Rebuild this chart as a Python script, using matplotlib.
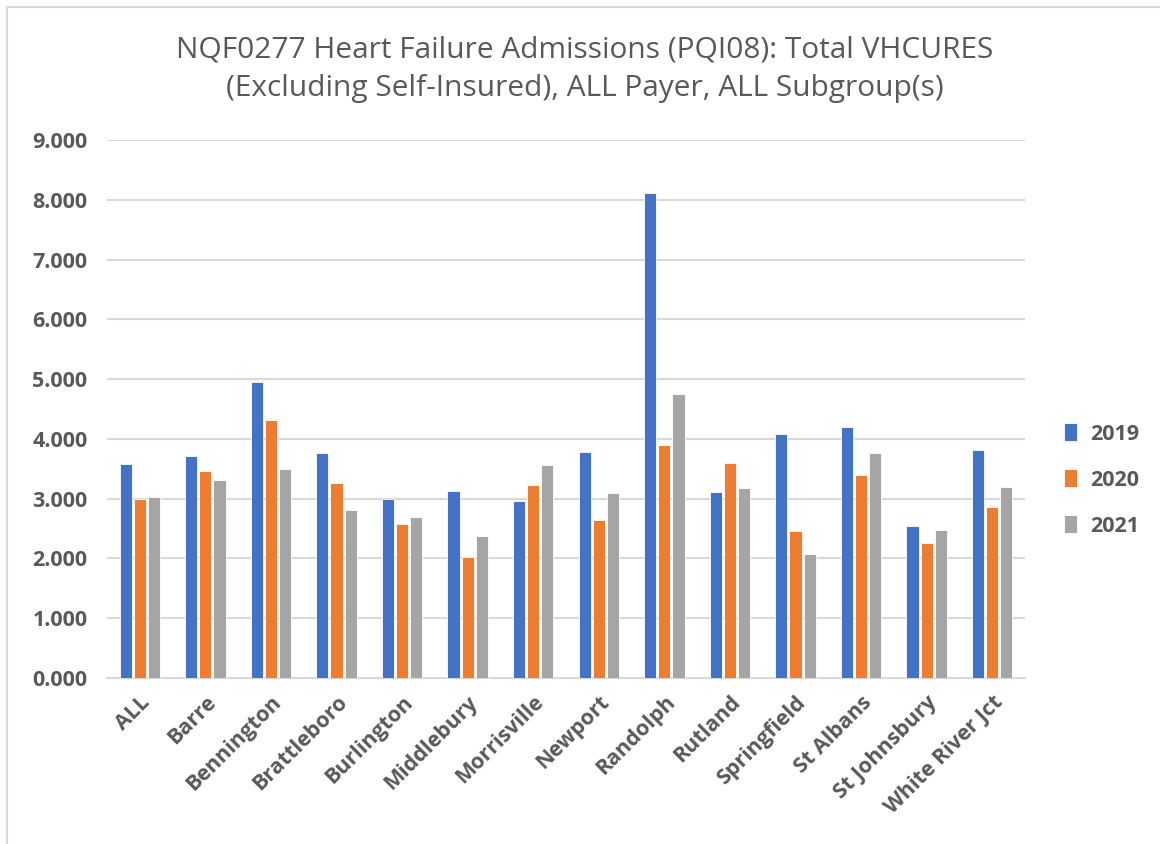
import matplotlib
matplotlib.use("Agg")
import matplotlib.pyplot as plt
import numpy as np
from matplotlib.patches import Rectangle

categories = ["ALL", "Barre", "Bennington", "Brattleboro", "Burlington", "Middlebury",
              "Morrisville", "Newport", "Randolph", "Rutland", "Springfield",
              "St Albans", "St Johnsbury", "White River Jct"]
v2019 = [3.576, 3.720, 4.960, 3.757, 2.995, 3.135, 2.960, 3.780, 8.118, 3.115, 4.075, 4.200, 2.536, 3.813]
v2020 = [2.997, 3.458, 4.320, 3.270, 2.570, 2.017, 3.236, 2.640, 3.894, 3.595, 2.455, 3.396, 2.255, 2.854]
v2021 = [3.034, 3.320, 3.495, 2.816, 2.700, 2.376, 3.560, 3.097, 4.754, 3.171, 2.075, 3.757, 2.473, 3.196]
series_names = ["2019", "2020", "2021"]
colors = ["#4472C4", "#ED7D31", "#A5A5A5"]
title = "NQF0277 Heart Failure Admissions (PQI08): Total VHCURES\n(Excluding Self-Insured), ALL Payer, ALL Subgroup(s)"
yticks = [0, 1, 2, 3, 4, 5, 6, 7, 8, 9]

plt.rcParams['font.family'] = ['Open Sans', 'DejaVu Sans']
txt = "#595959"

fig = plt.figure(figsize=(11.6, 8.44), dpi=100)
fig.patches.append(Rectangle((7/1160, -0.1), 1.2, 1 - 7/844 + 0.1, transform=fig.transFigure,
                             fill=False, edgecolor="#d9d9d9", linewidth=1.5))

ax = fig.add_axes([107/1160, 1 - 678/844, (1025-107)/1160, (678-140)/844])
x = np.arange(len(categories))
w = 0.185
off = 0.215
for i, (vals, name, c) in enumerate(zip([v2019, v2020, v2021], series_names, colors)):
    ax.bar(x + (i - 1) * off, vals, width=w, color=c, label=name,
           edgecolor="white", linewidth=0.6, zorder=3)

ax.set_xlim(-0.5, len(categories) - 0.5)
ax.set_ylim(0, 9)
ax.set_yticks(yticks)
ax.set_yticklabels([f"{t:.3f}" for t in yticks], fontsize=15.5, fontweight='bold', color=txt)
ax.set_xticks(x)
ax.set_xticklabels(categories, rotation=45, ha='right', rotation_mode='anchor',
                   fontsize=15.5, fontweight='bold', color=txt)
ax.tick_params(axis='y', length=0, pad=14)
ax.tick_params(axis='x', length=0, pad=10)
ax.grid(axis='y', color="#d9d9d9", linewidth=1.5, zorder=0)
for s in ["left", "right", "top"]:
    ax.spines[s].set_visible(False)
ax.spines["bottom"].set_color("#d9d9d9")
ax.spines["bottom"].set_linewidth(1.5)

fig.text(585/1160, 1 - 69/844, title, ha='center', va='center', fontsize=21.5,
         color=txt, linespacing=1.45)

leg = fig.legend(loc='center left', bbox_to_anchor=(1045/1160, 1 - 480/844), frameon=False,
                 prop={'size': 15.5, 'weight': 'bold'}, handlelength=0.6, handleheight=0.9,
                 handletextpad=0.6, labelspacing=1.15)
for t in leg.get_texts():
    t.set_color(txt)

fig.savefig("out.png", dpi=100)
